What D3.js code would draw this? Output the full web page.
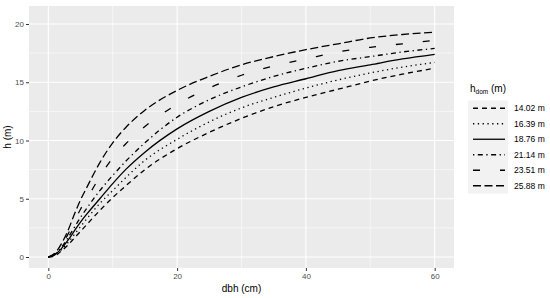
<!DOCTYPE html>
<html>
<head>
<meta charset="utf-8">
<script src="https://cdnjs.cloudflare.com/ajax/libs/d3/7.8.5/d3.min.js"></script>
<style>
  body { margin: 0; background: #fff; }
  text { font-family: "Liberation Sans", Arial, sans-serif; }
</style>
</head>
<body>
<div id="chart"></div>
<script>
// dbh grid (cm)
var dbh = [0, 1, 2, 3, 4, 5, 6, 8, 10, 12, 15, 20, 25, 30, 35, 40, 45, 50, 55, 60];

// predicted height (m) for each dominant height class
var h1402 = [0, 0.1, 0.5, 1.0, 1.6, 2.2, 2.8, 4.0, 5.1, 6.1, 7.5, 9.3, 10.7, 11.9, 12.9, 13.7, 14.4, 15.1, 15.7, 16.2];
var h1639 = [0, 0.2, 0.6, 1.2, 1.9, 2.6, 3.3, 4.6, 5.7, 6.8, 8.3, 10.1, 11.6, 12.8, 13.7, 14.5, 15.2, 15.8, 16.3, 16.7];
var h1876 = [0, 0.2, 0.7, 1.4, 2.2, 3.0, 3.7, 5.0, 6.3, 7.5, 9.0, 11.0, 12.5, 13.7, 14.6, 15.3, 16.0, 16.5, 17.0, 17.4];
var h2114 = [0, 0.2, 0.8, 1.6, 2.5, 3.4, 4.2, 5.7, 7.0, 8.2, 9.8, 12.0, 13.5, 14.6, 15.5, 16.2, 16.8, 17.2, 17.6, 17.9];
var h2351 = [0, 0.3, 1.0, 1.9, 3.0, 4.1, 5.0, 6.9, 8.5, 9.7, 11.2, 13.1, 14.5, 15.6, 16.4, 17.0, 17.6, 18.0, 18.3, 18.6];
var h2588 = [0, 0.3, 1.1, 2.2, 3.6, 4.9, 6.0, 8.1, 9.8, 11.1, 12.6, 14.3, 15.5, 16.5, 17.2, 17.8, 18.3, 18.8, 19.1, 19.3];

var hdomLabels = ["14.02 m", "16.39 m", "18.76 m", "21.14 m", "23.51 m", "25.88 m"];
var xTicks = [0, 20, 40, 60];
var yTicks = [0, 5, 10, 15, 20];

var series = [h1402, h1639, h1876, h2114, h2351, h2588];
// ggplot-like linetypes
var dashes = ["5,4", "1.3,3.5", null, "1.3,3.5,5,3.5", "7,20", "8,3.5"];

var W = 550, H = 298;
var panel = { left: 29, right: 454, top: 6, bottom: 268 };

var svg = d3.select("#chart").append("svg")
    .attr("width", W).attr("height", H);

var x = d3.scaleLinear().domain([-3, 63]).range([panel.left, panel.right]);
var y = d3.scaleLinear().domain([-0.944, 21.545]).range([panel.bottom, panel.top]);

// panel background
svg.append("rect")
    .attr("x", panel.left).attr("y", panel.top)
    .attr("width", panel.right - panel.left).attr("height", panel.bottom - panel.top)
    .attr("fill", "#EBEBEB");

// minor grid
var xMinor = [10, 30, 50], yMinor = [2.5, 7.5, 12.5, 17.5];
svg.selectAll(".xminor").data(xMinor).enter().append("line")
    .attr("x1", d => x(d)).attr("x2", d => x(d))
    .attr("y1", panel.top).attr("y2", panel.bottom)
    .attr("stroke", "#fff").attr("stroke-width", 0.55);
svg.selectAll(".yminor").data(yMinor).enter().append("line")
    .attr("y1", d => y(d)).attr("y2", d => y(d))
    .attr("x1", panel.left).attr("x2", panel.right)
    .attr("stroke", "#fff").attr("stroke-width", 0.55);

// major grid
svg.selectAll(".xmajor").data(xTicks).enter().append("line")
    .attr("x1", d => x(d)).attr("x2", d => x(d))
    .attr("y1", panel.top).attr("y2", panel.bottom)
    .attr("stroke", "#fff").attr("stroke-width", 1.1);
svg.selectAll(".ymajor").data(yTicks).enter().append("line")
    .attr("y1", d => y(d)).attr("y2", d => y(d))
    .attr("x1", panel.left).attr("x2", panel.right)
    .attr("stroke", "#fff").attr("stroke-width", 1.1);

// axes
var xAxis = svg.append("g")
    .attr("transform", "translate(0," + panel.bottom + ")")
    .call(d3.axisBottom(x).tickValues(xTicks).tickSize(3).tickPadding(2));
var yAxis = svg.append("g")
    .attr("transform", "translate(" + panel.left + ",0)")
    .call(d3.axisLeft(y).tickValues(yTicks).tickSize(3).tickPadding(2));
[xAxis, yAxis].forEach(function (a) {
    a.select(".domain").remove();
    a.selectAll(".tick line").attr("stroke", "#333").attr("stroke-width", 1);
    a.selectAll(".tick text").attr("fill", "#4D4D4D")
        .style("font-size", "8px").style("font-family", "Liberation Sans, Arial, sans-serif");
});

// curves
var line = d3.line()
    .x(function (d, i) { return x(dbh[i]); })
    .y(function (d) { return y(d); })
    .curve(d3.curveMonotoneX);

svg.selectAll(".curve").data(series).enter().append("path")
    .attr("d", d => line(d))
    .attr("fill", "none")
    .attr("stroke", "#000")
    .attr("stroke-width", 1.3)
    .attr("stroke-dasharray", (d, i) => dashes[i]);

// axis titles
svg.append("text")
    .attr("x", (panel.left + panel.right) / 2).attr("y", 292)
    .attr("text-anchor", "middle")
    .style("font-size", "10px")
    .text("dbh (cm)");
svg.append("text")
    .attr("transform", "translate(11," + ((panel.top + panel.bottom) / 2) + ") rotate(-90)")
    .attr("text-anchor", "middle")
    .style("font-size", "10px")
    .text("h (m)");

// legend
var legend = svg.append("g");
var title = legend.append("text").attr("x", 470).attr("y", 92).style("font-size", "10px");
title.append("tspan").text("h");
title.append("tspan").attr("dy", 2).style("font-size", "6.5px").text("dom");
title.append("tspan").attr("dy", -2).text(" (m)");

var rowH = 15.5, keyTop = 100.5, keyX0 = 468, keyX1 = 508;
legend.append("rect")
    .attr("x", keyX0).attr("y", keyTop)
    .attr("width", keyX1 - keyX0).attr("height", rowH * hdomLabels.length)
    .attr("fill", "#F2F2F2");

var rows = legend.selectAll(".row").data(hdomLabels).enter().append("g")
    .attr("transform", (d, i) => "translate(0," + (keyTop + rowH * i + rowH / 2) + ")");
rows.append("line")
    .attr("x1", 473).attr("x2", 505)
    .attr("stroke", "#000").attr("stroke-width", 1.3)
    .attr("stroke-dasharray", (d, i) => dashes[i]);
rows.append("text")
    .attr("x", 514).attr("dy", "0.35em")
    .style("font-size", "8.5px")
    .text(d => d);
</script>
</body>
</html>
